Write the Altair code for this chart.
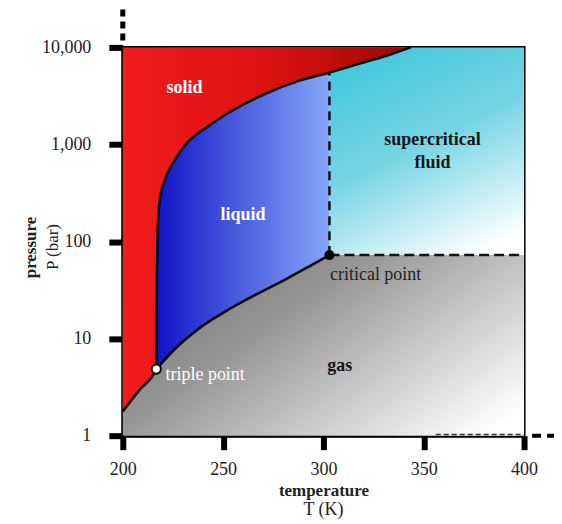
import altair as alt
import pandas as pd

# ---- values (T in K, P in bar) ----
sub_T = [200.0, 208.5, 216.7]
sub_P = [1.78, 3.0, 4.85]
melt_T = [216.7, 217.0, 217.4, 218.4, 220.9, 225.9, 231.8, 241.8, 254.7, 271.6, 288.1, 303.0, 317.9, 331.3, 343.5]
melt_P = [4.85, 40, 131, 268, 428, 690, 1025, 1500, 2240, 3370, 4550, 5500, 6800, 8200, 10000]
vap_T = [216.7, 226.7, 238.3, 251.6, 266.5, 281.4, 294.5, 303.0]
vap_P = [4.85, 8.1, 12.9, 19.3, 28.5, 41.1, 57.9, 72.5]

triple_T, triple_P = 216.7, 4.85
crit_T, crit_P = 303.0, 72.5

T_MIN, T_MAX = 200, 400
P_MIN, P_MAX = 1, 10000
x_ticks = [200, 250, 300, 350, 400]
y_ticks = [1, 10, 100, 1000, 10000]

lab_white_bold = ["solid", "liquid"]
lab_white_bold_T = [230.8, 259.9]
lab_white_bold_P = [3860, 187]
lab_black_bold = ["supercritical", "fluid", "gas"]
lab_black_bold_T = [354.4, 354.4, 308.1]
lab_black_bold_P = [1100, 650, 5.16]
crit_label = "critical point"
crit_label_T, crit_label_P = 303.3, 45
triple_label = "triple point"
triple_label_T, triple_label_P = 221.3, 4.24

FONT = "Liberation Serif"

# ---- tables ----
solid_df = pd.DataFrame({"T": sub_T + melt_T[1:], "P": sub_P + melt_P[1:]})
solid_df["P2"] = P_MAX
vap_df = pd.DataFrame({"T": vap_T, "P": vap_P})
liquid_df = vap_df.copy()
liquid_df["P2"] = P_MAX
gas_rect = pd.DataFrame({"T": [T_MIN], "T2": [T_MAX], "P": [P_MIN], "P2": [crit_P]})
super_rect = pd.DataFrame({"T": [crit_T], "T2": [T_MAX], "P": [crit_P], "P2": [P_MAX]})
vdash = pd.DataFrame({"T": [crit_T], "P": [crit_P], "P2": [5500]})
hdash = pd.DataFrame({"T": [crit_T], "T2": [T_MAX], "P": [crit_P]})
low_dash = pd.DataFrame({"T": [356], "T2": [T_MAX], "P": [1.03]})
brk_top = pd.DataFrame({"T": [T_MIN], "P": [11800], "P2": [25600]})
brk_right = pd.DataFrame({"T": [404], "T2": [416.5], "P": [P_MIN]})
crit_df = pd.DataFrame({"T": [crit_T], "P": [crit_P]})
triple_df = pd.DataFrame({"T": [triple_T], "P": [triple_P]})
wb_df = pd.DataFrame({"T": lab_white_bold_T, "P": lab_white_bold_P, "label": lab_white_bold})
bb_df = pd.DataFrame({"T": lab_black_bold_T, "P": lab_black_bold_P, "label": lab_black_bold})
cl_df = pd.DataFrame({"T": [crit_label_T], "P": [crit_label_P], "label": [crit_label]})
tl_df = pd.DataFrame({"T": [triple_label_T], "P": [triple_label_P], "label": [triple_label]})

xs = alt.Scale(domain=[T_MIN, T_MAX], nice=False, zero=False)
ys = alt.Scale(type="log", domain=[P_MIN, P_MAX], nice=False)
x_axis = alt.Axis(values=x_ticks, format="d", title="temperature", titleFontWeight="bold",
                  titleFontSize=17, titleX=201, titleY=55, titleBaseline="middle",
                  labelPadding=11, labelFlush=False)
y_axis = alt.Axis(values=y_ticks, format=",d", title="pressure", titleFontWeight="bold",
                  titleFontSize=17, titleX=-92, titleY=200, titleAngle=270,
                  titleBaseline="middle", titleAlign="center", labelPadding=18,
                  labelFlush=False)


def X():
    return alt.X("T:Q", scale=xs, axis=x_axis)


def Y():
    return alt.Y("P:Q", scale=ys, axis=y_axis)


def grad(stops, x1=0, y1=0, x2=1, y2=0):
    return alt.Gradient(gradient="linear", x1=x1, y1=y1, x2=x2, y2=y2,
                        stops=[alt.GradientStop(color=c, offset=o) for o, c in stops])


gas = alt.Chart(gas_rect).mark_rect(
    color=grad([(0, "#757575"), (0.35, "#979797"), (0.7, "#cfcfcf"), (1, "#ffffff")], 0, 0.2, 1, 0.85)
).encode(x=X(), x2="T2", y=Y(), y2="P2")

sup = alt.Chart(super_rect).mark_rect(
    color=grad([(0, "#46c8dc"), (0.45, "#76d4e4"), (1, "#ffffff")], 0.3, 0, 0.75, 1)
).encode(x=X(), x2="T2", y=Y(), y2="P2")

liquid = alt.Chart(liquid_df).mark_area(
    interpolate="monotone",
    color=grad([(0, "#1212c6"), (0.4, "#4252da"), (1, "#84a6f8")])
).encode(x=X(), y=Y(), y2="P2")

solid = alt.Chart(solid_df).mark_area(
    interpolate="monotone",
    color=grad([(0, "#f21c1c"), (0.5, "#dc1212"), (1, "#9c0606")])
).encode(x=X(), y=Y(), y2="P2")

solid_line = alt.Chart(solid_df).mark_line(
    interpolate="monotone", color="black", strokeWidth=2.5
).encode(x=X(), y=Y())

vap_line = alt.Chart(vap_df).mark_line(
    interpolate="monotone", color="black", strokeWidth=2.5
).encode(x=X(), y=Y())

vrule = alt.Chart(vdash).mark_rule(color="#111", strokeWidth=2.5, strokeDash=[9, 6]).encode(
    x=X(), y=Y(), y2="P2")
hrule = alt.Chart(hdash).mark_rule(color="#111", strokeWidth=2.5, strokeDash=[10, 5]).encode(
    x=X(), x2="T2", y=Y())
lrule = alt.Chart(low_dash).mark_rule(color="#333", strokeWidth=1.5, strokeDash=[5, 3]).encode(
    x=X(), x2="T2", y=Y())
btop = alt.Chart(brk_top).mark_rule(color="black", strokeWidth=5, strokeDash=[7, 5]).encode(
    x=X(), y=Y(), y2="P2")
bright = alt.Chart(brk_right).mark_rule(color="black", strokeWidth=4, strokeDash=[9, 6]).encode(
    x=X(), x2="T2", y=Y())

crit_pt = alt.Chart(crit_df).mark_point(
    filled=True, color="black", size=100, opacity=1
).encode(x=X(), y=Y())
triple_pt = alt.Chart(triple_df).mark_point(
    filled=True, fill="white", stroke="black", strokeWidth=2, size=85, opacity=1
).encode(x=X(), y=Y())

wb = alt.Chart(wb_df).mark_text(font=FONT, fontSize=18, fontWeight="bold", color="white",
                                baseline="middle").encode(x=X(), y=Y(), text="label:N")
bb = alt.Chart(bb_df).mark_text(font=FONT, fontSize=18, fontWeight="bold", color="#151515",
                                baseline="middle").encode(x=X(), y=Y(), text="label:N")
cl = alt.Chart(cl_df).mark_text(font=FONT, fontSize=18, color="#222", align="left",
                                baseline="middle").encode(x=X(), y=Y(), text="label:N")
tl = alt.Chart(tl_df).mark_text(font=FONT, fontSize=18, color="white", align="left",
                                baseline="middle").encode(x=X(), y=Y(), text="label:N")

t_unit = alt.Chart(pd.DataFrame({"label": ["T (K)"]})).mark_text(
    font=FONT, fontSize=18, color="#222", baseline="middle"
).encode(x=alt.value(201), y=alt.value(463), text="label:N")
p_unit = alt.Chart(pd.DataFrame({"label": ["P (bar)"]})).mark_text(
    font=FONT, fontSize=17, color="#222", baseline="middle", angle=270
).encode(x=alt.value(-70), y=alt.value(200), text="label:N")

chart = alt.layer(
    gas, sup, liquid, solid, solid_line, vap_line, vrule, hrule, lrule, btop, bright,
    crit_pt, triple_pt, wb, bb, cl, tl, t_unit, p_unit
).properties(
    width=402, height=389,
    autosize=alt.AutoSizeParams(type="none"),
    padding={"left": 115, "top": 39, "right": 30, "bottom": 86},
).configure_view(
    stroke="black", strokeWidth=3
).configure_axis(
    domainColor="black", domainWidth=3, tickColor="black", tickWidth=6, tickSize=14,
    labelFont=FONT, labelFontSize=18, labelColor="#222", grid=False,
    titleFont=FONT, titleColor="#222"
)

chart.save("out.html", embed_options={"renderer": "svg", "actions": False})
